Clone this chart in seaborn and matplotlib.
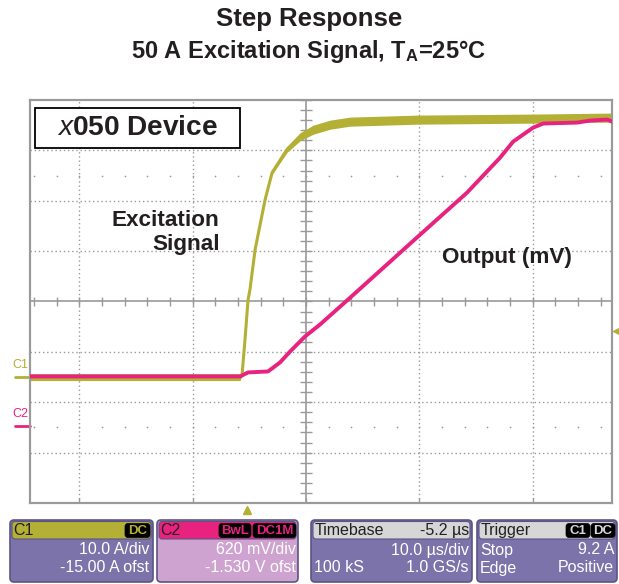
import numpy as np
import pandas as pd
import matplotlib.pyplot as plt
import seaborn as sns
from matplotlib.patches import FancyBboxPatch, Rectangle
import matplotlib.transforms as mtransforms

# C1: senal de excitacion (A), C2: salida (mV), tiempo en us respecto al disparo
c1_time_us = [-19.15, -0.62, -0.44, -0.18, 0.09, 0.26, 0.71, 1.59, 2.21, 3.53,
              4.68, 5.83, 7.33, 9.09, 15.1, 25.2, 32.2]
c1_amps = [0.0, 0.0, 0.5, 7.5, 15.4, 17.4, 25.3, 35.2, 40.6, 45.2,
           47.7, 49.1, 50.1, 50.7, 51.1, 51.3, 51.5]
c1_noise = [0.7, 0.7, 0.3, 0.15, 0.15, 0.15, 0.2, 0.3, 0.4, 0.6,
            0.8, 0.9, 0.9, 0.9, 0.9, 0.9, 0.9]

c2_time_us = [-19.15, -0.62, 0.09, 1.85, 2.91, 3.80, 5.12, 6.44, 8.92, 15.09,
              19.42, 22.33, 23.48, 25.24, 26.13, 29.13, 30.27, 31.77, 32.22]
c2_mv = [607, 607, 657, 669, 780, 915, 1100, 1247, 1555, 2330,
         2871, 3301, 3498, 3670, 3720, 3732, 3757, 3769, 3744]

# ajustes del osciloscopio
c1_scale, c1_center = 10.0, 15.0        # A/div, -15 A ofst
c2_scale, c2_center = 620.0, 1530.0     # mV/div, -1.530 V ofst
t_scale, t_center = 10.0, 5.2           # us/div, timebase -5.2 us
t_left, t_right = -19.15, 32.2
trigger_level = 9.2

OLIVE = '#b3b035'
MAGENTA = '#e8227f'
GRID = '#9a9a9a'
TXT = '#231f20'

sns.set_style('white')
plt.rcParams['font.family'] = ['Liberation Sans', 'DejaVu Sans']
plt.rcParams['mathtext.fontset'] = 'custom'
plt.rcParams['mathtext.rm'] = 'Liberation Sans'
plt.rcParams['mathtext.it'] = 'Liberation Sans:italic'
plt.rcParams['mathtext.bf'] = 'Liberation Sans:bold'

fig = plt.figure(figsize=(6.19, 5.84), dpi=100)
ax = fig.add_axes([0.0485, 0.1387, 0.9402, 0.6901])
ax2 = ax.twinx()

ax.set_xlim(t_left, t_right)
ax.set_ylim(c1_center - 4 * c1_scale, c1_center + 4 * c1_scale)
ax2.set_ylim(c2_center - 4 * c2_scale, c2_center + 4 * c2_scale)

# reticula
xgrid = [t_center + k * t_scale for k in range(-3, 3)]
ygrid = [c1_center + k * c1_scale for k in range(-3, 4)]
for xv in xgrid:
    if xv != t_center:
        ax.axvline(xv, color=GRID, lw=1.0, ls=(0, (1, 2)), zorder=1)
for yv in ygrid:
    if yv != c1_center:
        ax.axhline(yv, color=GRID, lw=1.0, ls=(0, (1, 2)), zorder=1)
ax.axvline(t_center, color=GRID, lw=1.2, zorder=1)
ax.axhline(c1_center, color=GRID, lw=1.2, zorder=1)

# subdivisiones sobre los ejes centrales
sub_x = np.arange(t_center - 30, t_right, t_scale / 5)
sub_y = np.arange(c1_center - 40, c1_center + 40.1, c1_scale / 5)
ax.vlines(sub_x, c1_center - 0.8, c1_center + 0.8, color=GRID, lw=1.0, zorder=1)
ax.hlines(sub_y, t_center - 0.55, t_center + 0.55, color=GRID, lw=1.0, zorder=1)
for yv in [c1_center + 2.5 * c1_scale, c1_center - 2.5 * c1_scale]:
    ax.scatter(sub_x, [yv] * len(sub_x), s=1.5, color=GRID, zorder=1, linewidths=0)
ax.vlines(xgrid, c1_center - 4 * c1_scale, c1_center - 3.9 * c1_scale, color=GRID, lw=1.0)

for a in (ax, ax2):
    a.set_xticks([])
    a.set_yticks([])
    for sp in a.spines.values():
        sp.set_color(GRID)
        sp.set_linewidth(1.5)

# trazas
d1 = pd.DataFrame({'t': c1_time_us, 'A': c1_amps, 'n': c1_noise})
d2 = pd.DataFrame({'t': c2_time_us, 'mV': c2_mv})
ax.fill_between(d1['t'], d1['A'] - d1['n'], d1['A'] + d1['n'], color=OLIVE, lw=0, zorder=3)
sns.lineplot(data=d1, x='t', y='A', ax=ax, color=OLIVE, lw=2.2, estimator=None,
             sort=False, zorder=3)
sns.lineplot(data=d2, x='t', y='mV', ax=ax2, color=MAGENTA, lw=2.8, estimator=None,
             sort=False, zorder=4)
ax.set_xlabel('')
ax.set_ylabel('')
ax2.set_ylabel('')

# marcadores de canal y disparo
btr = mtransforms.blended_transform_factory(ax.transAxes, ax.transData)
btr2 = mtransforms.blended_transform_factory(ax2.transAxes, ax2.transData)
ax.plot([-0.026, 0.0], [0, 0], color=OLIVE, lw=2, transform=btr, clip_on=False)
ax.text(-0.031, 1.2, 'C1', color=OLIVE, fontsize=9, transform=btr, va='bottom', ha='left')
ax2.plot([-0.026, 0.0], [0, 0], color=MAGENTA, lw=2, transform=btr2, clip_on=False)
ax2.text(-0.031, 75, 'C2', color=MAGENTA, fontsize=9, transform=btr2, va='bottom', ha='left')
ax.plot([1.008], [trigger_level], marker='<', ms=6, color=OLIVE, transform=btr,
        clip_on=False, lw=0)
btx = mtransforms.blended_transform_factory(ax.transData, ax.transAxes)
ax.plot([0], [-0.018], marker='^', ms=6, color=OLIVE, transform=btx, clip_on=False, lw=0)

# anotaciones
ax.add_patch(Rectangle((0.0086, 0.881), 0.352, 0.099, transform=ax.transAxes,
                       fc='white', ec='black', lw=1.3, zorder=5))
ax.text(0.184, 0.930, r'$\mathit{x}$050 Device', transform=ax.transAxes, ha='center',
        va='center', fontsize=20.2, fontweight='bold', color=TXT, zorder=6)
ax.text(0.326, 0.672, 'Excitation\nSignal', transform=ax.transAxes, ha='right',
        va='center', fontsize=16.2, fontweight='bold', color=TXT, linespacing=1.2,
        multialignment='right', zorder=6)
ax.text(0.708, 0.608, 'Output (mV)', transform=ax.transAxes, ha='left', va='center',
        fontsize=16.2, fontweight='bold', color=TXT, zorder=6)

fig.text(0.499, 0.968, 'Step Response', ha='center', va='center', fontsize=18.5,
         fontweight='bold', color=TXT)
fig.text(0.499, 0.911, r'50 A Excitation Signal, T$_\mathbf{A}$=25°C', ha='center',
         va='center', fontsize=17, fontweight='bold', color=TXT)

# cuadros de informacion inferiores (coordenadas en pixeles)
ov = fig.add_axes([0, 0, 1, 1], facecolor='none')
ov.set_xlim(0, 619)
ov.set_ylim(584, 0)
ov.axis('off')

PURPLE = '#7b73aa'
PINK = '#cfa3cf'
GRAYH = '#d6d6d6'
EDGE = '#5c5484'

boxes = [
    (10, 153, OLIVE, PURPLE, 'C1', TXT),
    (157, 298, MAGENTA, PINK, 'C2', TXT),
    (311, 472, GRAYH, PURPLE, 'Timebase', TXT),
    (477, 617, GRAYH, PURPLE, 'Trigger', TXT),
]
for x0, x1, hc, bc, name, tc in boxes:
    ov.add_patch(FancyBboxPatch((x0, 520), x1 - x0, 62, boxstyle='round,pad=0,rounding_size=4',
                                fc=bc, ec=EDGE, lw=1.2))
    ov.add_patch(FancyBboxPatch((x0 + 2, 521.5), x1 - x0 - 4, 17.5,
                                boxstyle='round,pad=0,rounding_size=3', fc=hc, ec=EDGE, lw=0.8))
    ov.text(x0 + 3.5, 530.5, name, fontsize=11.5, color=tc, ha='left', va='center')

def badge(x0, x1, label, color):
    ov.add_patch(FancyBboxPatch((x0, 523.5), x1 - x0, 14, boxstyle='round,pad=0,rounding_size=3',
                                fc='black', ec='black', lw=0.5))
    ov.text((x0 + x1) / 2, 530.8, label, fontsize=9.5, color=color, ha='center', va='center',
            fontweight='bold')

badge(125, 150, 'DC', OLIVE)
badge(219, 251, 'BwL', MAGENTA)
badge(253, 296, 'DC1M', MAGENTA)
badge(566, 590, 'C1', GRAYH)
badge(591, 615, 'DC', GRAYH)

ov.text(469, 530.5, '-5.2 µs', fontsize=11.5, color=TXT, ha='right', va='center')

rows = [
    (149, 'right', '10.0 A/div', 550), (149, 'right', '-15.00 A ofst', 568),
    (296, 'right', '620 mV/div', 550), (296, 'right', '-1.530 V ofst', 568),
    (469, 'right', '10.0 µs/div', 550), (314, 'left', '100 kS', 568),
    (469, 'right', '1.0 GS/s', 568),
    (480, 'left', 'Stop', 550), (614, 'right', '9.2 A', 550),
    (480, 'left', 'Edge', 568), (614, 'right', 'Positive', 568),
]
for x, ha, s, y in rows:
    ov.text(x, y, s, fontsize=11.5, color='white', ha=ha, va='center')

fig.savefig('out.png', dpi=100, facecolor='white')
